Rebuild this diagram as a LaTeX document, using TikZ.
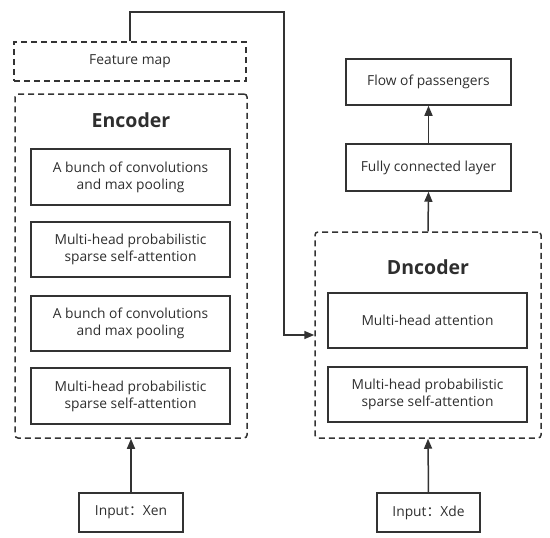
\documentclass[tikz,border=0pt]{standalone}
\usepackage{fontspec}
\setmainfont{Open Sans}
\newfontfamily\cjk{Noto Sans CJK SC}
\usetikzlibrary{arrows.meta}
\definecolor{ln}{HTML}{333333}
\definecolor{tx}{HTML}{2E2E2E}
\begin{document}
\begin{tikzpicture}[x=1pt,y=-1pt,
  box/.style={draw=ln,line width=1.5pt,rectangle,inner sep=0pt,align=center,text=tx,
    font=\fontsize{13.8}{17}\selectfont},
  dbox/.style={draw=ln,line width=1.5pt,rectangle,inner sep=0pt,dash pattern=on 6pt off 4pt,
    text=tx,font=\fontsize{13.8}{17}\selectfont},
  ttl/.style={text=tx,font=\fontsize{19.5}{22}\selectfont\bfseries,inner sep=0pt},
  arr/.style={draw=ln,line width=1.5pt,-{Triangle[length=10pt,width=8pt]}},
  conn/.style={draw=ln,line width=1.5pt}]
\useasboundingbox (0,0) rectangle (550,538);
% encoder side
\node[dbox,minimum width=232pt,minimum height=39pt] (fm) at (130,61.5) {Feature map};
\node[dbox,rounded corners=3pt,minimum width=232pt,minimum height=344pt] (enc) at (131,266) {};
\node[ttl] (enct) at (131,120) {Encoder};
\node[box,minimum width=199pt,minimum height=56pt] (e1) at (130.5,177) {A bunch of convolutions\\and max pooling};
\node[box,minimum width=199pt,minimum height=55pt] (e2) at (130.5,249.5) {Multi-head probabilistic\\sparse self-attention};
\node[box,minimum width=199pt,minimum height=55pt] (e3) at (130.5,323.5) {A bunch of convolutions\\and max pooling};
\node[box,minimum width=199pt,minimum height=56pt] (e4) at (130.5,396) {Multi-head probabilistic\\sparse self-attention};
\node[box,minimum width=104pt,minimum height=39pt] (xen) at (131,512.5) {Input{\cjk ：}Xen};
% decoder side
\node[dbox,rounded corners=3pt,minimum width=226pt,minimum height=206pt] (dec) at (428,335) {};
\node[ttl] (dect) at (428,267) {Dncoder};
\node[box,minimum width=199pt,minimum height=55pt] (d1) at (427.5,320.5) {Multi-head attention};
\node[box,minimum width=199pt,minimum height=55pt] (d2) at (427.5,394.5) {Multi-head probabilistic\\sparse self-attention};
\node[box,minimum width=103pt,minimum height=39pt] (xde) at (428.5,512.5) {Input{\cjk ：}Xde};
\node[box,minimum width=165pt,minimum height=47pt] (fc) at (428.5,167.5) {Fully connected layer};
\node[box,minimum width=165pt,minimum height=46pt] (flow) at (428.5,82) {Flow of passengers};
% connectors
\coordinate (top) at (284,12);
\draw[arr] (xen.north) -- (enc.south);
\draw[arr] (xde.north) -- (dec.south);
\draw[arr] (dec.north) -- (fc.south);
\draw[arr] (fc.north) -- (flow.south);
\draw[arr] (fm.north) |- (top) |- (dec.west);
\end{tikzpicture}
\end{document}
